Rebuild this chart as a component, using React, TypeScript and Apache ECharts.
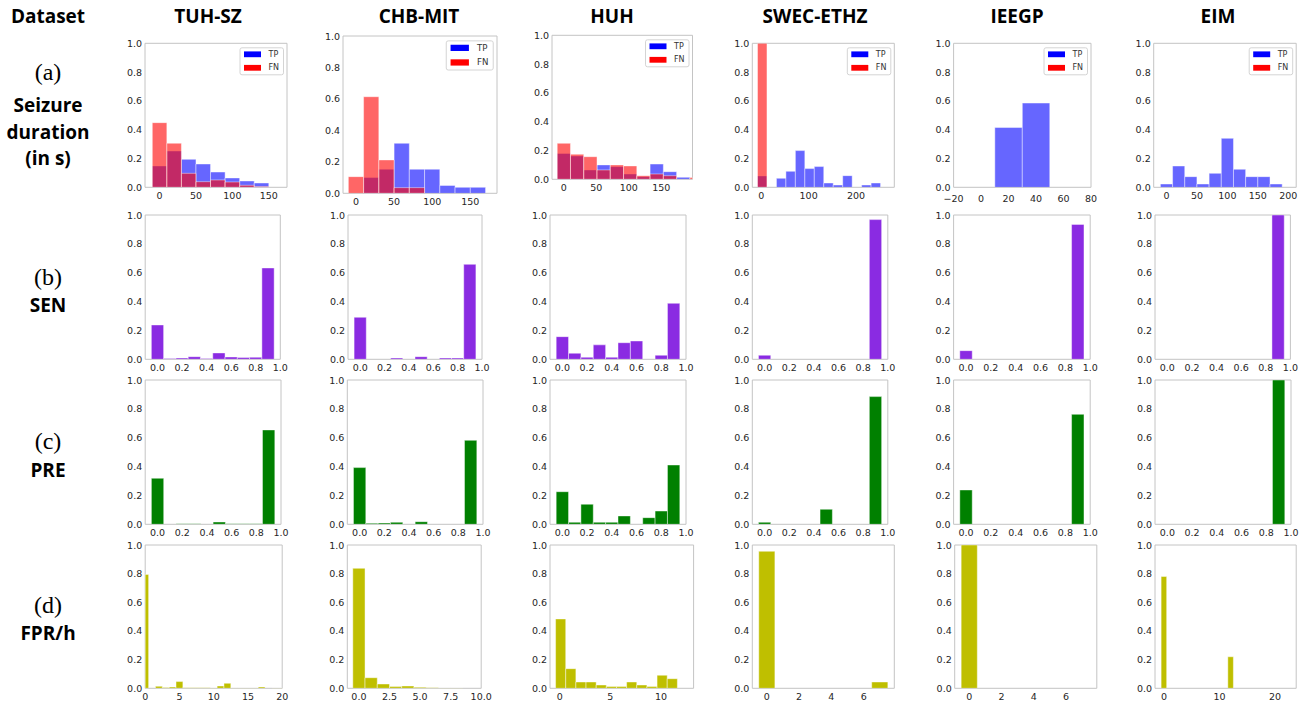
import React, { useEffect, useRef } from "react";
import * as echarts from "echarts";

// ---------- labels ----------
const datasets = ["TUH-SZ", "CHB-MIT", "HUH", "SWEC-ETHZ", "IEEGP", "EIM"];
const rowLetters = ["(a)", "(b)", "(c)", "(d)"];
const rowNames = [["Seizure", "duration", "(in s)"], ["SEN"], ["PRE"], ["FPR/h"]];
const yTicks = [0, 0.2, 0.4, 0.6, 0.8, 1.0];

// ---------- (a) seizure duration: TP / FN histograms ----------
const durBinStart = [-10, -10, -10, -8, 10, -10];
const durBinWidth = [20, 20, 20.4, 20, 20, 20];
const durTP = [
  [0.148, 0.252, 0.194, 0.162, 0.106, 0.065, 0.044, 0.03],
  [0, 0.1, 0.153, 0.318, 0.153, 0.153, 0.05, 0.038, 0.038],
  [0.18, 0.162, 0.065, 0.1, 0.088, 0.037, 0.018, 0.106, 0.053, 0.014],
  [0.079, 0, 0.0625, 0.111, 0.255, 0.13, 0.144, 0.03, 0.016, 0.081, 0, 0.016, 0.03],
  [0.415, 0.585],
  [0.023, 0.148, 0.074, 0.023, 0.097, 0.34, 0.125, 0.074, 0.074, 0.023],
];
const durFN = [
  [0.449, 0.306, 0.097, 0.039, 0.051, 0.037, 0.014, 0.005],
  [0.106, 0.614, 0.212, 0.036, 0.036],
  [0.25, 0.174, 0.157, 0.065, 0.1, 0.093, 0.025, 0.037, 0.025, 0, 0.012],
  [1.0],
  [],
  [],
];
const durXMin = [-20, -17, -18, -19, -20, -21];
const durXMax = [175, 185, 198, 281, 80, 213];
const durXTicks = [
  [0, 50, 100, 150],
  [0, 50, 100, 150],
  [0, 50, 100, 150],
  [0, 100, 200],
  [-20, 0, 20, 40, 60, 80],
  [0, 50, 100, 150, 200],
];

// ---------- (b) SEN, (c) PRE: bins centred on 0.0 ... 0.9 ----------
const rateBinStart = -0.05;
const rateBinWidth = 0.1;
const rateXMin = -0.1;
const rateXMax = 1.0;
const rateXTicks = [0, 0.2, 0.4, 0.6, 0.8, 1.0];
const senValues = [
  [0.238, 0.005, 0.009, 0.018, 0.005, 0.044, 0.016, 0.012, 0.014, 0.633],
  [0.291, 0, 0, 0.009, 0, 0.018, 0, 0.009, 0.009, 0.658],
  [0.157, 0.042, 0.014, 0.1, 0.014, 0.115, 0.127, 0, 0.028, 0.388],
  [0.028, 0, 0, 0, 0, 0, 0, 0, 0, 0.968],
  [0.06, 0, 0, 0, 0, 0, 0, 0, 0, 0.935],
  [0, 0, 0, 0, 0, 0, 0, 0, 0, 1.0],
];
const preValues = [
  [0.319, 0, 0.004, 0.004, 0, 0.016, 0.004, 0.004, 0.004, 0.654],
  [0.393, 0.007, 0.009, 0.014, 0, 0.018, 0, 0, 0, 0.582],
  [0.226, 0.014, 0.139, 0.014, 0.014, 0.058, 0, 0.046, 0.092, 0.411],
  [0.014, 0, 0, 0, 0, 0.104, 0, 0, 0, 0.885],
  [0.238, 0, 0, 0, 0, 0, 0, 0, 0, 0.762],
  [0, 0, 0, 0, 0, 0, 0, 0, 0, 1.0],
];

// ---------- (d) FPR/h ----------
const fprBinStart = [-0.5, -0.5, -0.4, -0.5, -0.5, -0.5];
const fprBinWidth = [1, 1, 1, 1, 1, 1];
const fprValues = [
  [0.795, 0, 0.014, 0.005, 0.009, 0.047, 0.004, 0.004, 0.004, 0.004, 0.002, 0.016, 0.035, 0.002, 0.002, 0.002, 0.002, 0.009, 0, 0.002, 0.002],
  [0.837, 0.074, 0.03, 0.012, 0.016, 0.007, 0.003, 0.002, 0.002],
  [0.484, 0.137, 0.044, 0.044, 0.023, 0.012, 0.012, 0.044, 0.023, 0.012, 0.091, 0.067],
  [0.956, 0, 0, 0, 0, 0, 0, 0.044],
  [1.0],
  [0.78, 0, 0, 0, 0, 0, 0, 0, 0, 0, 0, 0, 0.22],
];
const fprXMin = [0, -0.95, -0.95, -0.9, -0.9, -1.6];
const fprXMax = [20, 10, 13.2, 7.9, 7.9, 23.8];
const fprXTicks = [
  [0, 5, 10, 15, 20],
  [0, 2.5, 5, 7.5, 10],
  [0, 5, 10],
  [0, 2, 4, 6],
  [0, 2, 4, 6],
  [0, 10, 20],
];
const fprDecimals = [0, 1, 0, 0, 0, 0];

// ---------- layout (panel boxes: left, top, right, bottom) ----------
const boxes = [
  [
    [145, 43.3, 287, 187.3],
    [343, 36, 497, 193.3],
    [552, 35.3, 692.5, 179.3],
    [752.3, 43.3, 894.3, 187.3],
    [953.6, 43.3, 1091, 187.3],
    [1153.7, 43.3, 1296.2, 187.3],
  ],
  [
    [145.2, 215, 280.3, 359.3],
    [348, 215, 482, 359.3],
    [550, 215, 686, 359.3],
    [752.3, 215, 887.8, 359.3],
    [953.6, 215, 1090.2, 359.3],
    [1155, 215, 1290.4, 359.3],
  ],
  [
    [145.2, 380, 281, 524.3],
    [347.3, 380, 483, 524.3],
    [550, 380, 686, 524.3],
    [752.3, 380, 887.8, 524.3],
    [953.6, 380, 1090.2, 524.3],
    [1155, 380, 1291, 524.3],
  ],
  [
    [145.2, 545, 282.2, 688.3],
    [347.3, 545, 481.2, 688.3],
    [550, 545, 693.6, 688.3],
    [752.3, 545, 894.3, 688.3],
    [954.7, 545, 1096.8, 688.3],
    [1155, 545, 1296.2, 688.3],
  ],
];
const headerX = [208, 419, 612, 815, 1017, 1218];
const rowLabelY = [
  [72, 105, 132, 158],
  [277, 305],
  [441, 470],
  [605, 633],
];

const TP_FILL = "rgba(0,0,255,0.6)";
const FN_FILL = "rgba(255,0,0,0.6)";
const SEN_FILL = "#8a2be2";
const PRE_FILL = "#008000";
const FPR_FILL = "#bfbf00";
const TICK_FONT = "DejaVu Sans";
const BOLD_FONT = "Open Sans";
const TICK_SIZE = 9.5;
const TICK_COLOR = "#262626";

function bins(start: number, width: number, heights: number[]) {
  const out: number[][] = [];
  heights.forEach((h, i) => {
    if (h > 0) out.push([start + i * width, start + (i + 1) * width, h]);
  });
  return out;
}

function fmt(dec: number) {
  return (v: number) => {
    const s = Math.abs(v).toFixed(dec);
    return v < -1e-9 ? "\u2212" + s : s;
  };
}

function makeRender(fill: string) {
  return (params: any, api: any) => {
    const x0 = api.value(0);
    const x1 = api.value(1);
    const h = api.value(2);
    const p0 = api.coord([x0, h]);
    const p1 = api.coord([x1, 0]);
    const cs = params.coordSys;
    const shape = echarts.graphic.clipRectByRect(
      { x: p0[0], y: p0[1], width: p1[0] - p0[0], height: p1[1] - p0[1] },
      { x: cs.x, y: cs.y, width: cs.width, height: cs.height }
    );
    if (!shape) return null;
    return {
      type: "rect",
      shape,
      style: { fill, stroke: "rgba(255,255,255,0.55)", lineWidth: 0.8 },
    };
  };
}

function textEl(text: string, x: number, y: number, font: string, size: number, weight: string, align = "center") {
  return {
    type: "text",
    x,
    y,
    silent: true,
    style: {
      text,
      fill: "#000",
      font: `${weight} ${size}px "${font}"`,
      fontFamily: font,
      fontSize: size,
      fontWeight: weight,
      align,
      verticalAlign: "middle",
      textAlign: align,
      textVerticalAlign: "middle",
    },
  };
}

function legendEls(box: number[], s: number) {
  const R = box[2];
  const T = box[1];
  const els: any[] = [
    {
      type: "rect",
      silent: true,
      shape: { x: R - 47 * s, y: T + 4.5 * s, width: 43.5 * s, height: 27 * s, r: 2 },
      style: { fill: "rgba(255,255,255,0.85)", stroke: "#d4d4d4", lineWidth: 1 },
    },
  ];
  const entries: [string, string, number][] = [
    ["TP", "#0000ff", 11],
    ["FN", "#ff0000", 24.5],
  ];
  entries.forEach(([name, color, dy]) => {
    els.push({
      type: "rect",
      silent: true,
      shape: { x: R - 43 * s, y: T + (dy - 2.9) * s, width: 17 * s, height: 5.8 * s },
      style: { fill: color },
    });
    els.push({
      type: "text",
      silent: true,
      x: R - 18.5 * s,
      y: T + dy * s,
      style: {
        text: name,
        fill: "#333",
        font: `normal ${8 * s}px "${TICK_FONT}"`,
        fontFamily: TICK_FONT,
        fontSize: 8 * s,
        align: "left",
        verticalAlign: "middle",
        textAlign: "left",
        textVerticalAlign: "middle",
      },
    });
  });
  return els;
}

function buildOption() {
  const grid: any[] = [];
  const xAxis: any[] = [];
  const yAxis: any[] = [];
  const series: any[] = [];
  const graphic: any[] = [];

  let idx = 0;
  for (let r = 0; r < 4; r++) {
    for (let c = 0; c < 6; c++) {
      const b = boxes[r][c];
      grid.push({
        left: b[0],
        top: b[1],
        width: b[2] - b[0],
        height: b[3] - b[1],
        show: true,
        borderColor: "#c4c4c4",
        borderWidth: 1,
        backgroundColor: "transparent",
      });

      let xmin: number, xmax: number, ticks: number[], dec: number;
      const hist: { data: number[][]; fill: string }[] = [];
      if (r === 0) {
        xmin = durXMin[c];
        xmax = durXMax[c];
        ticks = durXTicks[c];
        dec = 0;
        hist.push({ data: bins(durBinStart[c], durBinWidth[c], durTP[c]), fill: TP_FILL });
        hist.push({ data: bins(durBinStart[c], durBinWidth[c], durFN[c]), fill: FN_FILL });
      } else if (r === 1 || r === 2) {
        xmin = rateXMin;
        xmax = rateXMax;
        ticks = rateXTicks;
        dec = 1;
        const vals = r === 1 ? senValues[c] : preValues[c];
        hist.push({ data: bins(rateBinStart, rateBinWidth, vals), fill: r === 1 ? SEN_FILL : PRE_FILL });
      } else {
        xmin = fprXMin[c];
        xmax = fprXMax[c];
        ticks = fprXTicks[c];
        dec = fprDecimals[c];
        hist.push({ data: bins(fprBinStart[c], fprBinWidth[c], fprValues[c]), fill: FPR_FILL });
      }

      // the IEEGP duration axis starts at −20, right under the "0.0" label: push it down a little
      const xMargin = r === 0 && c === 4 ? 6 : 3;

      xAxis.push({
        type: "value",
        gridIndex: idx,
        min: xmin,
        max: xmax,
        axisLine: { show: false },
        axisTick: { show: false },
        splitLine: { show: false },
        axisLabel: {
          customValues: ticks,
          formatter: fmt(dec),
          fontSize: TICK_SIZE,
          fontFamily: TICK_FONT,
          color: TICK_COLOR,
          margin: xMargin,
          showMinLabel: true,
          showMaxLabel: true,
        },
      });
      yAxis.push({
        type: "value",
        gridIndex: idx,
        min: 0,
        max: 1,
        axisLine: { show: false },
        axisTick: { show: false },
        splitLine: { show: false },
        axisLabel: {
          customValues: yTicks,
          formatter: fmt(1),
          fontSize: TICK_SIZE,
          fontFamily: TICK_FONT,
          color: TICK_COLOR,
          margin: 3,
          showMinLabel: true,
          showMaxLabel: true,
        },
      });
      hist.forEach((h) => {
        series.push({
          type: "custom",
          xAxisIndex: idx,
          yAxisIndex: idx,
          silent: true,
          clip: true,
          renderItem: makeRender(h.fill),
          encode: { x: [0, 1], y: 2 },
          data: h.data,
        });
      });
      if (r === 0) {
        graphic.push(...legendEls(b, c === 1 ? 1.08 : 1));
      }
      idx++;
    }
  }

  // headers
  graphic.push(textEl("Dataset", 48, 16, BOLD_FONT, 19, "bold"));
  datasets.forEach((d, i) => graphic.push(textEl(d, headerX[i], 16, BOLD_FONT, 19, "bold")));
  // row labels
  rowLetters.forEach((l, r) => {
    const ys = rowLabelY[r];
    graphic.push(textEl(l, 48, ys[0], "Liberation Serif", 24, "normal"));
    rowNames[r].forEach((n, k) => graphic.push(textEl(n, 48, ys[k + 1], BOLD_FONT, 19, "bold")));
  });

  return {
    animation: false,
    backgroundColor: "#ffffff",
    grid,
    xAxis,
    yAxis,
    series,
    graphic: { elements: graphic },
  };
}

export default function App() {
  const ref = useRef<HTMLDivElement>(null);
  useEffect(() => {
    if (!ref.current) return;
    const chart = echarts.init(ref.current, undefined, { renderer: "svg", width: 1307, height: 702 });
    chart.setOption(buildOption() as any);
    return () => chart.dispose();
  }, []);
  return (
    <div
      ref={ref}
      style={{ position: "fixed", left: 0, top: 0, width: 1307, height: 702, background: "#fff" }}
    />
  );
}
